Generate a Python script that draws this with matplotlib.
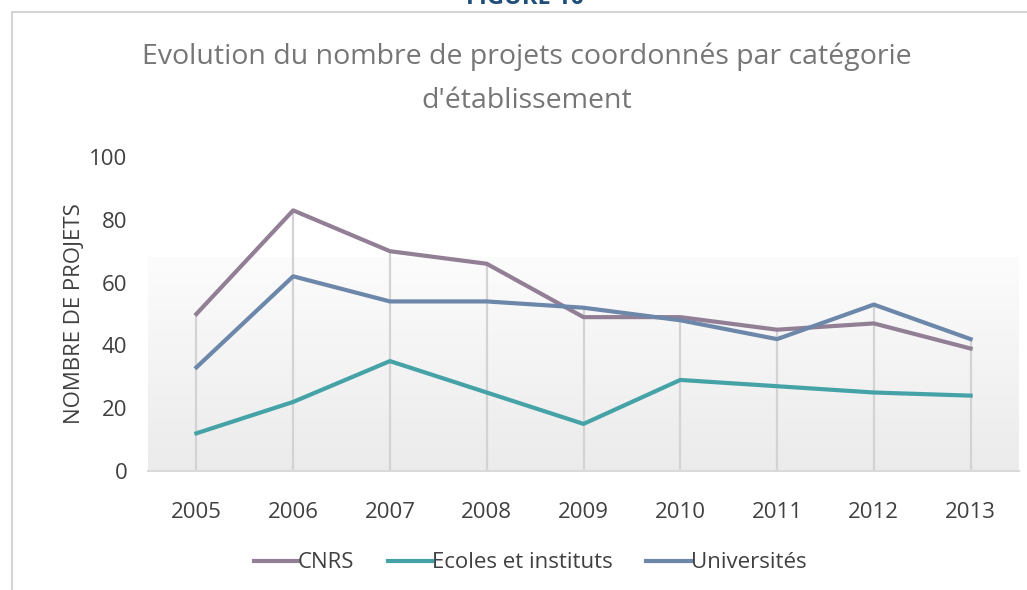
import matplotlib.pyplot as plt
import numpy as np
from matplotlib.patches import Rectangle

plt.rcParams['font.family'] = ['Open Sans', 'DejaVu Sans']

years = ['2005', '2006', '2007', '2008', '2009', '2010', '2011', '2012', '2013']
cnrs = [50, 83, 70, 66, 49, 49, 45, 47, 39]
ecoles = [12, 22, 35, 25, 15, 29, 27, 25, 24]
universites = [33, 62, 54, 54, 52, 48, 42, 53, 42]

fig = plt.figure(figsize=(10.27, 5.90), dpi=100)
fig.patch.set_facecolor('white')

# outer chart frame (cut by the image edges on the right and bottom)
fig.patches.append(Rectangle((12 / 1027, -0.05), 1.1, 1 - 12 / 590 + 0.05,
                             transform=fig.transFigure, fill=False,
                             edgecolor='#d4d4d4', linewidth=1.5))

# heading above the chart, cut off by the top edge as in the source
fig.text(525 / 1027, 1 - 4 / 590, 'FIGURE 10', ha='center', va='baseline',
         fontsize=17, fontweight='bold', color='#1f4e79')

ax = fig.add_axes([148 / 1027, 1 - 471 / 590, (1019 - 148) / 1027, (471 - 157) / 590])
x = np.arange(len(years))
ax.set_xlim(-0.5, len(years) - 0.5)
ax.set_ylim(0, 100)

# background gradient in the lower part of the plot area
grad = np.linspace(0, 1, 256).reshape(-1, 1)
ax.imshow(grad, extent=[-0.5, len(years) - 0.5, 0, 68], aspect='auto',
          cmap=plt.matplotlib.colors.LinearSegmentedColormap.from_list(
              'g', ['#ebebeb', '#fcfcfc']), origin='lower', zorder=0)

# drop lines up to the highest value
tops = np.maximum(np.maximum(cnrs, ecoles), universites)
ax.vlines(x, 0, tops, color='#d3d3d3', linewidth=1.6, zorder=1)

ax.plot(x, cnrs, color='#927f96', linewidth=3, label='CNRS', zorder=3)
ax.plot(x, ecoles, color='#45a3a8', linewidth=3, label='Ecoles et instituts', zorder=3)
ax.plot(x, universites, color='#6c87a9', linewidth=3, label='Universités', zorder=4)

ax.set_xticks(x)
ax.set_xticklabels(years)
ax.set_yticks([0, 20, 40, 60, 80, 100])
ax.tick_params(length=0, labelsize=16, colors='#404040')
ax.tick_params(axis='x', pad=22)
ax.tick_params(axis='y', pad=15)
for s in ['top', 'right', 'left']:
    ax.spines[s].set_visible(False)
ax.spines['bottom'].set_color('#d9d9d9')
ax.spines['bottom'].set_linewidth(1.5)
ax.set_facecolor('white')

ax.set_ylabel('NOMBRE DE PROJETS', fontsize=16, color='#404040')
ax.yaxis.set_label_coords(-63 / 871, 0.5)

fig.text(527 / 1027, 1 - 57 / 590, 'Evolution du nombre de projets coordonnés par catégorie',
         ha='center', va='center', fontsize=20.5, color='#767676')
fig.text(527 / 1027, 1 - 101 / 590, "d'établissement",
         ha='center', va='center', fontsize=20.5, color='#767676')

fig.legend(loc='center', bbox_to_anchor=(530 / 1027, 1 - 563 / 590), ncol=3,
           frameon=False, fontsize=16, handlelength=2.0, handletextpad=0.0,
           columnspacing=1.5, labelcolor='#404040')

fig.savefig('out.png', dpi=100)
